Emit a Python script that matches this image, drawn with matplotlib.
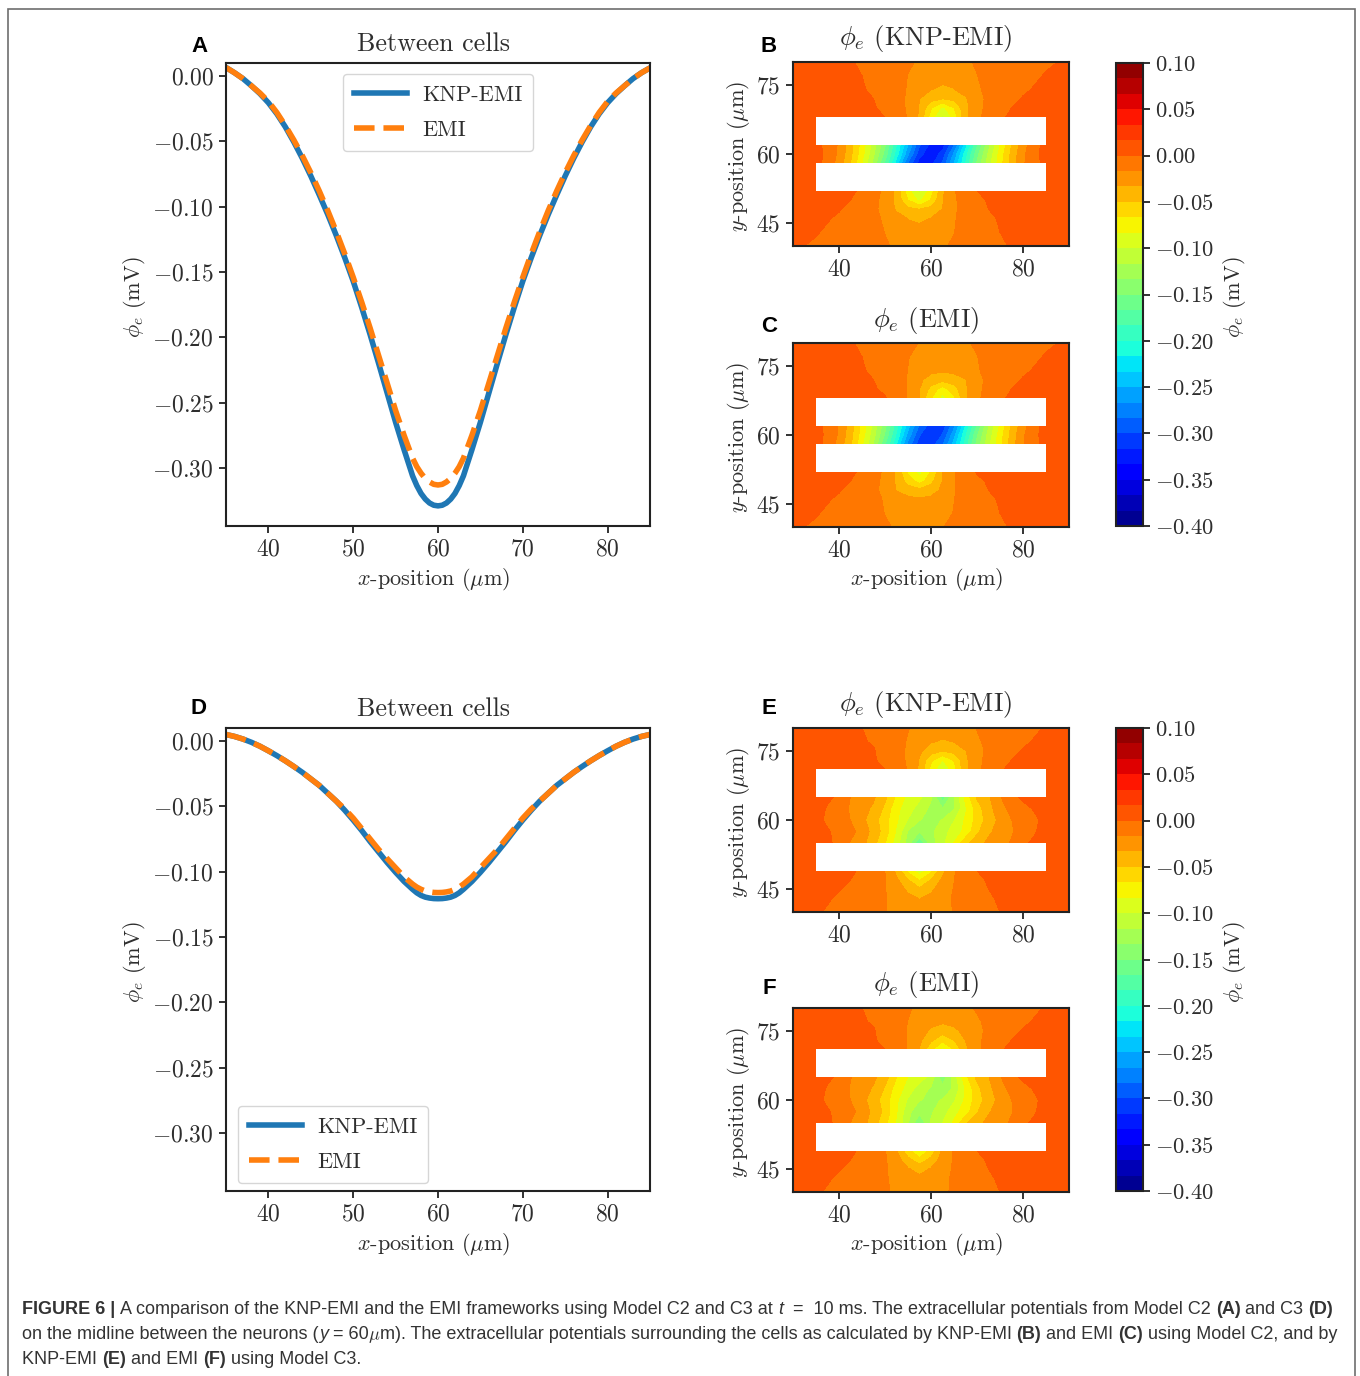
import numpy as np
import matplotlib
matplotlib.use('Agg')
import matplotlib.pyplot as plt
from matplotlib.patches import Rectangle

plt.rcParams['mathtext.fontset'] = 'cm'
plt.rcParams['font.family'] = ['cmr10', 'DejaVu Sans']
plt.rcParams['axes.unicode_minus'] = False

W, H = 1360, 1376
TXT = '#2e2e2e'

# midline curves
x_line = [35, 36, 37, 38, 39, 40, 41, 42, 43, 44, 45, 46, 47, 48, 49, 50, 51, 52, 53, 54, 55, 56,
          57, 57.5, 58, 58.5, 59, 59.5, 60, 60.5, 61, 61.5, 62, 62.5, 63,
          64, 65, 66, 67, 68, 69, 70, 71, 72, 73, 74, 75, 76, 77, 78, 79, 80, 81, 82, 83, 84, 85]
a_knp = [0.0065, 0.0025, -0.002, -0.0075, -0.0135, -0.0205, -0.029, -0.039, -0.0505, -0.063, -0.0765, -0.091,
         -0.106, -0.122, -0.139, -0.157, -0.177, -0.198, -0.22, -0.2425, -0.265, -0.286,
         -0.306, -0.3135, -0.3195, -0.3238, -0.3268, -0.3285, -0.329, -0.3285, -0.3268, -0.3238, -0.3195, -0.3135, -0.306,
         -0.286, -0.265, -0.2425, -0.22, -0.198, -0.177, -0.157, -0.139, -0.122, -0.106, -0.091, -0.0765, -0.063,
         -0.0505, -0.039, -0.029, -0.0205, -0.0135, -0.0075, -0.002, 0.0025, 0.0062]
a_emi = [0.0065, 0.0025, -0.002, -0.0075, -0.013, -0.0195, -0.028, -0.038, -0.049, -0.061, -0.074, -0.088,
         -0.103, -0.119, -0.136, -0.154, -0.173, -0.193, -0.214, -0.235, -0.256, -0.275,
         -0.2925, -0.299, -0.304, -0.308, -0.3107, -0.3125, -0.313, -0.3125, -0.3107, -0.308, -0.304, -0.299, -0.2925,
         -0.275, -0.256, -0.235, -0.214, -0.193, -0.173, -0.154, -0.136, -0.119, -0.103, -0.088, -0.074, -0.061,
         -0.049, -0.038, -0.028, -0.0195, -0.013, -0.0075, -0.002, 0.0025, 0.0062]
d_knp = [0.005, 0.0035, 0.0015, -0.001, -0.004, -0.0075, -0.0112, -0.0152, -0.0195, -0.024, -0.029, -0.034,
         -0.04, -0.046, -0.053, -0.0605, -0.0685, -0.077, -0.085, -0.093, -0.1005, -0.1075,
         -0.1135, -0.1162, -0.1182, -0.1195, -0.1202, -0.1206, -0.1207, -0.1206, -0.1202, -0.1195, -0.1182, -0.1162, -0.1135,
         -0.1075, -0.1005, -0.093, -0.085, -0.077, -0.0685, -0.0605, -0.053, -0.046, -0.04, -0.034, -0.029, -0.024,
         -0.0195, -0.0152, -0.0112, -0.0075, -0.004, -0.001, 0.0015, 0.0035, 0.005]
d_emi = [0.005, 0.0035, 0.0015, -0.001, -0.004, -0.0075, -0.0112, -0.0152, -0.0195, -0.024, -0.029, -0.034,
         -0.04, -0.046, -0.052, -0.059, -0.067, -0.075, -0.083, -0.09, -0.097, -0.104,
         -0.1095, -0.1118, -0.1135, -0.1148, -0.1155, -0.1159, -0.116, -0.1159, -0.1155, -0.1148, -0.1135, -0.1118, -0.1095,
         -0.104, -0.097, -0.09, -0.083, -0.075, -0.067, -0.059, -0.052, -0.046, -0.04, -0.034, -0.029, -0.024,
         -0.0195, -0.0152, -0.0112, -0.0075, -0.004, -0.001, 0.0015, 0.0035, 0.005]

# potential fields in uV
x_grid = [30, 35, 37.5, 40, 42.5, 45, 47.5, 50, 52.5, 55, 57.5, 60, 62.5, 65, 67.5, 70, 72.5, 75, 77.5, 80, 82.5, 85, 90]
y_grid_c2 = [40, 43, 46, 48, 50, 52, 58, 60, 62, 68, 70, 72, 74, 77, 80]
y_grid_c3 = [40, 43, 45, 47, 49, 55, 57.5, 60, 62.5, 65, 71, 73, 75, 77, 80]

field_b = [
    [2, -2, -3.5, -5, -7, -9, -12, -15, -19, -21, -22, -21, -18, -15, -11, -8, -5, -2, 1, 3, 5, 7, 10],
    [3, 1, -2, -4, -6, -9, -12, -17, -22, -27, -29, -27, -22, -17, -11, -7, -4, 0, 2, 3, 5, 7, 9],
    [4, 2, 1, -2, -5, -8, -13, -19, -26, -34, -36, -33, -25, -18, -11, -6, -2, 1, 3, 4, 6, 7, 9],
    [6, 4, 2, 1, -4, -9, -14, -21, -36, -46, -50, -44, -33, -19, -11, -5, 0, 2, 3, 5, 6, 7, 9],
    [6, 4, 3, 2, 0, -6, -13, -21, -38, -67, -88, -65, -35, -19, -10, -3, 1, 2, 4, 5, 6, 7, 8],
    [6, 5, 4, 3, 2, -2, -10, -21, -38, -78, -105, -75, -36, -18, -8, 0, 1, 3, 4, 5, 6, 7, 8],
    [8, 6, -6, -24, -50, -84, -122, -170, -225, -285, -325, -322, -298, -250, -200, -148, -108, -74, -44, -19, -5, 5, 8],
    [9, 6.5, -5, -20, -46, -77, -114, -157, -209, -264, -311, -329, -311, -264, -209, -157, -114, -77, -46, -20, -5, 6.5, 9],
    [8, 5, -5, -19, -44, -74, -108, -148, -200, -250, -298, -322, -325, -285, -225, -170, -122, -84, -50, -24, -6, 6, 8],
    [8, 7, 6, 5, 4, 3, 1, 0, -8, -18, -36, -75, -105, -78, -38, -21, -10, -2, 2, 3, 4, 5, 6],
    [8, 7, 6, 5, 4, 2, 1, -3, -10, -19, -35, -65, -88, -67, -38, -21, -13, -6, 0, 2, 3, 4, 6],
    [9, 7, 6, 5, 3, 2, 0, -5, -11, -19, -33, -44, -50, -46, -36, -21, -14, -9, -4, 1, 2, 4, 6],
    [9, 7, 6, 4, 3, 1, -2, -6, -11, -18, -25, -33, -36, -34, -26, -19, -13, -8, -5, -2, 1, 2, 4],
    [9, 7, 5, 3, 2, 0, -4, -7, -11, -17, -22, -27, -29, -27, -22, -17, -12, -9, -6, -4, -2, 1, 3],
    [10, 7, 5, 3, 1, -2, -5, -8, -11, -15, -18, -21, -22, -21, -19, -15, -12, -9, -7, -5, -3.5, -2, 2],
]
field_c = [
    [2, -2, -3.5, -5, -7, -9, -12, -15, -18, -20, -21, -20, -17, -14, -11, -8, -5, -2, 1, 3, 5, 7, 10],
    [3, 1, -2, -4, -6, -9, -12, -17, -22, -26, -28, -26, -22, -16, -10, -7, -3, 0, 2, 3, 5, 7, 9],
    [4, 2, 1, -2, -5, -8, -13, -18, -25, -29, -31, -29, -24, -17, -10, -6, -2, 1, 3, 4, 6, 7, 9],
    [6, 4, 2, 1, -4, -9, -14, -20, -34, -42, -45, -41, -30, -18, -10, -4, 0, 2, 3, 5, 6, 7, 9],
    [6, 4, 3, 2, 0, -6, -13, -20, -36, -57, -75, -55, -33, -18, -9, -2, 1, 2, 4, 5, 6, 7, 8],
    [6, 5, 4, 3, 2, -2, -10, -20, -37, -70, -90, -66, -34, -18, -7, 1, 2, 3, 4, 5, 6, 7, 8],
    [8, 6, -5, -23, -48, -81, -118, -165, -217, -272, -310, -308, -287, -243, -194, -145, -105, -72, -42, -18, -4, 5, 8],
    [9, 6.5, -4, -19, -44, -75, -111, -153, -203, -256, -299, -313, -299, -256, -203, -153, -111, -75, -44, -19, -4, 6.5, 9],
    [8, 5, -4, -18, -42, -72, -105, -145, -194, -243, -287, -308, -310, -272, -217, -165, -118, -81, -48, -23, -5, 6, 8],
    [8, 7, 6, 5, 4, 3, 2, 1, -7, -18, -34, -66, -90, -70, -37, -20, -10, -2, 2, 3, 4, 5, 6],
    [8, 7, 6, 5, 4, 2, 1, -2, -9, -18, -33, -55, -75, -57, -36, -20, -13, -6, 0, 2, 3, 4, 6],
    [9, 7, 6, 5, 3, 2, 0, -4, -10, -18, -30, -41, -45, -42, -34, -20, -14, -9, -4, 1, 2, 4, 6],
    [9, 7, 6, 4, 3, 1, -2, -6, -10, -17, -24, -29, -31, -29, -25, -18, -13, -8, -5, -2, 1, 2, 4],
    [9, 7, 5, 3, 2, 0, -3, -7, -10, -16, -22, -26, -28, -26, -22, -17, -12, -9, -6, -4, -2, 1, 3],
    [10, 7, 5, 3, 1, -2, -5, -8, -11, -14, -17, -20, -21, -20, -18, -15, -12, -9, -7, -5, -3.5, -2, 2],
]
field_e = [
    [3, 1, -1, -3, -5, -7, -10, -16, -21, -26, -28, -26, -21, -16, -10, -7, -3, 0, 2, 3, 5, 7, 10],
    [5, 3, 1, -1.5, -3.5, -6, -10, -16, -22, -29, -34, -29, -22, -15, -9, -5, -1, 1, 2, 3, 4, 5, 6],
    [6, 4, 2, 0.5, -2, -5, -10, -16, -25, -37, -47, -37, -25, -16, -9, -4, 0, 2, 3, 4, 5, 6, 7],
    [6, 5, 4, 2, 0, -3, -9, -16, -30, -50, -68, -50, -30, -17, -8, -2, 1, 3, 4, 5, 6, 6, 7],
    [6, 5, 4, 3, 2, -2, -10, -17, -38, -72, -95, -72, -38, -18, -8, 0, 1, 3, 4, 5, 6, 6, 7],
    [7, 5, 2, -3, -18, -28, -44, -66, -92, -125, -165, -125, -105, -83, -55, -40, -30, -24, -15, -2, 2, 4, 7],
    [7, 4, 1, -3, -11, -24, -39, -58, -86, -118, -133, -120, -108, -92, -79, -54, -36, -28, -19, -7, -1, 5, 7],
    [7, 3, -2, -7.5, -17, -29, -43, -60, -81, -101, -116, -121, -116, -101, -81, -60, -43, -29, -17, -7.5, -2, 3, 7],
    [7, 5, -1, -7, -19, -28, -36, -54, -79, -92, -108, -120, -133, -118, -86, -58, -39, -24, -11, -3, 1, 4, 7],
    [7, 4, 2, -2, -17, -25, -31, -46, -70, -88, -96, -115, -160, -120, -78, -48, -36, -18, -3, 2, 4, 5, 7],
    [8, 7, 6, 5, 4, 3, 1, 0, -8, -18, -36, -72, -100, -74, -38, -21, -10, -1, 2, 3, 4, 5, 6],
    [8, 7, 6, 5, 4, 2, 1, -3, -10, -19, -35, -63, -84, -65, -37, -21, -12, -6, 0, 2, 3, 4, 6],
    [9, 7, 6, 4, 3, 2, 1, -5, -11, -19, -30, -43, -50, -45, -34, -21, -14, -8, -4, 1, 2, 4, 6],
    [9, 7, 6, 4, 3, 1, -1, -6, -11, -18, -24, -32, -35, -33, -25, -19, -13, -8, -5, -2, 1, 3, 5],
    [10, 7, 5, 3, 1, 0, -4, -8, -11, -16, -21, -25, -27, -25, -21, -16, -12, -9, -6, -4, -2, 1, 3],
]
field_f = [
    [3, 1, -1, -3, -5, -7, -10, -14, -20, -24, -25, -24, -20, -14, -10, -7, -3, 0, 2, 3, 5, 7, 10],
    [5, 3, 1, -1.5, -3.5, -6, -10, -15, -21, -27, -30, -27, -21, -14, -9, -5, -1, 1, 2, 3, 4, 5, 6],
    [6, 4, 2, 0.5, -2, -5, -10, -15, -23, -32, -39, -32, -23, -15, -9, -4, 0, 2, 3, 4, 5, 6, 7],
    [6, 5, 4, 2, 0, -3, -9, -15, -26, -45, -60, -45, -26, -15, -8, -2, 1, 3, 4, 5, 6, 6, 7],
    [6, 5, 4, 3, 2, -2, -8, -16, -33, -62, -86, -62, -30, -15, -8, 0, 1, 3, 4, 5, 6, 6, 7],
    [7, 5, 2, -3, -17, -27, -42, -62, -86, -115, -150, -115, -100, -80, -52, -38, -29, -23, -14, -2, 2, 4, 7],
    [7, 4, 1, -3, -11, -24, -38, -55, -82, -112, -128, -119, -108, -90, -75, -52, -35, -27, -18, -7, -1, 5, 7],
    [7, 3, -2, -7, -17, -28, -42, -58, -80, -102, -116, -119, -116, -102, -80, -58, -42, -28, -17, -7, -1.5, 3, 7],
    [7, 5, -1, -7, -18, -27, -35, -52, -75, -90, -108, -119, -128, -114, -82, -55, -38, -24, -11, -3, 1, 4, 7],
    [7, 4, 2, -2, -16, -24, -30, -43, -66, -84, -92, -105, -145, -108, -72, -46, -34, -18, -3, 2, 4, 5, 7],
    [8, 7, 6, 5, 4, 3, 1, 0, -7, -18, -34, -62, -90, -66, -37, -21, -10, -1, 2, 3, 4, 5, 6],
    [8, 7, 6, 5, 4, 2, 1, -3, -9, -18, -30, -47, -62, -50, -33, -20, -12, -6, 0, 2, 3, 4, 6],
    [9, 7, 6, 4, 3, 2, 1, -5, -10, -18, -26, -36, -43, -37, -29, -20, -14, -8, -4, 1, 2, 4, 6],
    [9, 7, 6, 4, 3, 1, -1, -6, -11, -17, -23, -29, -31, -29, -24, -19, -13, -8, -5, -2, 1, 3, 5],
    [10, 7, 5, 3, 1, 0, -4, -8, -11, -15, -20, -24, -25, -24, -20, -15, -12, -9, -6, -4, -2, 1, 3],
]

# cells (y start, y end), all run from x=35 to x=85
cells_c2 = [(52, 58), (62, 68)]
cells_c3 = [(49, 55), (65, 71)]

line_xticks = [40, 50, 60, 70, 80]
line_yticks = [0.0, -0.05, -0.1, -0.15, -0.2, -0.25, -0.3]
map_xticks = [40, 60, 80]
map_yticks = [45, 60, 75]
cbar_ticks = [0.1, 0.05, 0.0, -0.05, -0.1, -0.15, -0.2, -0.25, -0.3, -0.35, -0.4]
levels = np.linspace(-0.4, 0.1, 31)


def px_axes(fig, left, top, right, bottom):
    return fig.add_axes([left / W, 1 - bottom / H, (right - left) / W, (bottom - top) / H])


def put(fig, x, y, s, **kw):
    kw.setdefault('color', TXT)
    kw.setdefault('ha', 'center')
    kw.setdefault('va', 'center')
    return fig.text(x / W, 1 - y / H, s, **kw)


def fmt(v):
    return f'${v:.2f}$'


def style(ax):
    for sp in ax.spines.values():
        sp.set_linewidth(1.5)
        sp.set_color('#222222')
    ax.tick_params(length=5, width=1.3, color='#222222', labelsize=17, labelcolor=TXT, pad=4)


def line_panel(fig, top, knp, emi, legend_xy, letter, letter_y):
    bottom = top + 463
    ax = px_axes(fig, 226, top, 650, bottom)
    ax.plot(x_line, knp, color='#1f77b4', lw=4, label='KNP-EMI')
    ax.plot(x_line, emi, color='#ff7f0e', lw=4, ls='--', label='EMI')
    ax.set_xlim(35, 85)
    ax.set_ylim(-0.3444, 0.00995)
    ax.set_xticks(line_xticks, [f'${t}$' for t in line_xticks])
    ax.set_yticks(line_yticks, [fmt(t) for t in line_yticks])
    style(ax)
    ax.legend(loc='upper left', bbox_to_anchor=legend_xy, borderaxespad=0, fontsize=16, handlelength=2.4,
              handletextpad=0.65, labelspacing=0.72, borderpad=0.5, labelcolor=TXT, framealpha=0.8)
    put(fig, 434, top - 19, 'Between cells', fontsize=18.7)
    put(fig, 434, bottom + 53.5, r'$x$-position ($\mu$m)', fontsize=16)
    put(fig, 134, top + 234, r'$\phi_e$ (mV)', fontsize=16, rotation=90)
    put(fig, 199, letter_y, letter, family='Liberation Sans', weight='bold', fontsize=16, color='black')
    return ax


def map_panel(fig, top, y_grid, field, cells, title, letter, letter_y, xlabel=False):
    bottom = top + 184
    ax = px_axes(fig, 793, top, 1069, bottom)
    cf = ax.contourf(x_grid, y_grid, np.array(field) / 1000, levels=levels, cmap='jet')
    for y0, y1 in cells:
        ax.add_patch(Rectangle((35, y0), 50, y1 - y0, facecolor='white', edgecolor='none', zorder=3))
    ax.set_xlim(30, 90)
    ax.set_ylim(40, 80)
    ax.set_xticks(map_xticks, [f'${t}$' for t in map_xticks])
    ax.set_yticks(map_yticks, [f'${t}$' for t in map_yticks])
    style(ax)
    put(fig, 926, top - 23, title, fontsize=19)
    put(fig, 739, top + 94, r'$y$-position ($\mu$m)', fontsize=16, rotation=90)
    if xlabel:
        put(fig, 927, bottom + 52.5, r'$x$-position ($\mu$m)', fontsize=16)
    put(fig, 769, letter_y, letter, family='Liberation Sans', weight='bold', fontsize=16, color='black')
    return cf


def colorbar_panel(fig, cf, top):
    cax = px_axes(fig, 1116, top, 1143, top + 463)
    cb = fig.colorbar(cf, cax=cax)
    cb.set_ticks(cbar_ticks, labels=[fmt(t) for t in cbar_ticks])
    cb.ax.tick_params(length=5, width=1.3, color='#222222', labelsize=16.3, labelcolor=TXT, pad=3.5)
    cb.outline.set_linewidth(1.5)
    cb.outline.set_edgecolor('#222222')
    put(fig, 1235, top + 234, r'$\phi_e$ (mV)', fontsize=16, rotation=90)


def rich_line(fig, x, y, parts):
    # caption line with mixed weights, each piece placed after the last one
    renderer = fig.canvas.get_renderer()
    for s, kw in parts:
        opts = dict(family='Liberation Sans', fontsize=13.0, ha='left', va='baseline', color='#333333')
        opts.update(kw)
        put(fig, x, y, s, **opts)
        probe = put(fig, 0, 0, '|' + s + '|', **opts)
        bar = put(fig, 0, 0, '||', **opts)
        x += probe.get_window_extent(renderer).width - bar.get_window_extent(renderer).width
        probe.remove()
        bar.remove()


fig = plt.figure(figsize=(W / 100, H / 100), dpi=100, facecolor='white')
fig.add_artist(Rectangle((8 / W, -0.02), 1347 / W, 1 + 0.02 - 9 / H, transform=fig.transFigure,
                         facecolor='none', edgecolor='#6e6e6e', linewidth=1.2))

line_panel(fig, 63, a_knp, a_emi, ((343 - 226) / 424, (526 - 74) / 463), 'A', 46)
line_panel(fig, 728, d_knp, d_emi, ((238 - 226) / 424, (1191 - 1106) / 463), 'D', 709)

cf = map_panel(fig, 62, y_grid_c2, field_b, cells_c2, r'$\phi_e$ (KNP-EMI)', 'B', 46)
map_panel(fig, 343, y_grid_c2, field_c, cells_c2, r'$\phi_e$ (EMI)', 'C', 327, xlabel=True)
cf2 = map_panel(fig, 728, y_grid_c3, field_e, cells_c3, r'$\phi_e$ (KNP-EMI)', 'E', 709)
map_panel(fig, 1008, y_grid_c3, field_f, cells_c3, r'$\phi_e$ (EMI)', 'F', 989, xlabel=True)

colorbar_panel(fig, cf, 63)
colorbar_panel(fig, cf2, 728)

B = {'weight': 'bold'}
R = {}
I = {'style': 'italic'}
rich_line(fig, 22, 1314, [('FIGURE 6 | ', B),
                          ('A comparison of the KNP-EMI and the EMI frameworks using Model C2 and C3 at ', R),
                          ('t', I), ('  =  10 ms. The extracellular potentials from Model C2 ', R), ('(A)', B),
                          (' and C3 ', R), ('(D)', B)])
rich_line(fig, 22, 1339, [('on the midline between the neurons (', R), ('y', I), (' = 60', R), (r'$\mu$', R),
                          ('m). The extracellular potentials surrounding the cells as calculated by KNP-EMI ', R),
                          ('(B)', B), (' and EMI ', R), ('(C)', B), (' using Model C2, and by', R)])
rich_line(fig, 22, 1364, [('KNP-EMI ', R), ('(E)', B), (' and EMI ', R), ('(F)', B), (' using Model C3.', R)])

fig.savefig('out.png', dpi=100, facecolor='white')
